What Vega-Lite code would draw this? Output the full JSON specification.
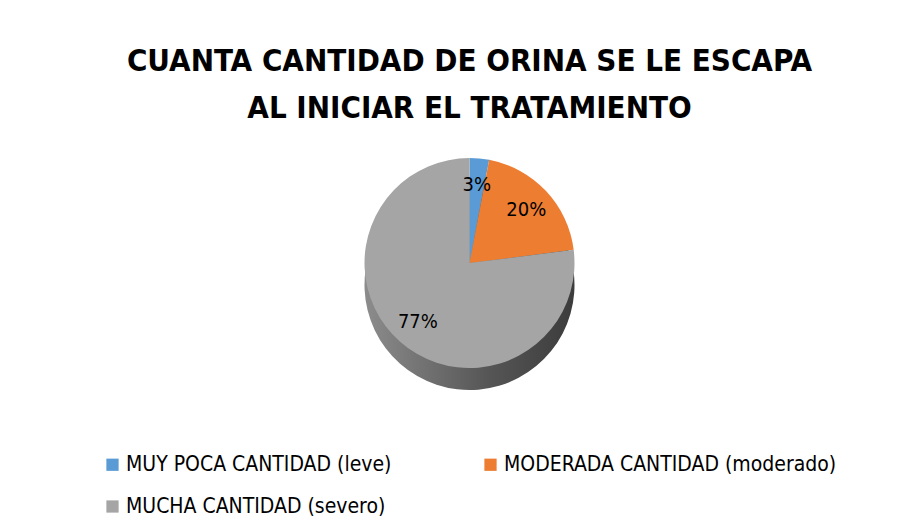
{
  "$schema": "https://vega.github.io/schema/vega-lite/v6.json",
  "width": 914,
  "height": 531,
  "autosize": {"type": "fit", "contains": "padding"},
  "padding": {"left": 30, "top": 46, "right": 5, "bottom": 14},
  "background": "white",
  "title": {
    "text": ["CUANTA CANTIDAD DE ORINA SE LE ESCAPA", "AL INICIAR EL TRATAMIENTO"],
    "font": "DejaVu Sans Condensed",
    "fontSize": 31,
    "fontWeight": "bold",
    "color": "#000000",
    "anchor": "middle",
    "lineHeight": 47,
    "offset": 21
  },
  "data": {
    "values": [
      {"cat": "MUY POCA CANTIDAD (leve)", "pct": 3, "label": "3%", "ord": 1},
      {"cat": "MODERADA CANTIDAD (moderado)", "pct": 20, "label": "20%", "ord": 2},
      {"cat": "MUCHA CANTIDAD (severo)", "pct": 77, "label": "77%", "ord": 3}
    ]
  },
  "encoding": {
    "theta": {"field": "pct", "type": "quantitative", "stack": true},
    "order": {"field": "ord", "type": "quantitative"}
  },
  "layer": [
    {
      "mark": {
        "type": "arc",
        "outerRadius": 105,
        "yOffset": 22,
        "color": {
          "gradient": "linear",
          "x1": 0, "y1": 0, "x2": 1, "y2": 0,
          "stops": [
            {"offset": 0, "color": "#8c8c8c"},
            {"offset": 0.6, "color": "#555555"},
            {"offset": 1, "color": "#3c3c3c"}
          ]
        }
      },
      "encoding": {}
    },
    {
      "mark": {"type": "arc", "outerRadius": 105},
      "encoding": {
        "color": {
          "field": "cat",
          "type": "nominal",
          "scale": {
            "domain": ["MUY POCA CANTIDAD (leve)", "MODERADA CANTIDAD (moderado)", "MUCHA CANTIDAD (severo)"],
            "range": ["#5B9BD5", "#ED7D31", "#A5A5A5"]
          },
          "legend": {
            "title": null,
            "orient": "bottom",
            "direction": "horizontal",
            "columns": 2,
            "symbolType": "square",
            "symbolSize": 150,
            "symbolStrokeWidth": 0,
            "labelFont": "DejaVu Sans Condensed",
            "labelFontSize": 21,
            "labelColor": "#000000",
            "labelLimit": 400,
            "labelOffset": 3,
            "columnPadding": 88,
            "rowPadding": 20,
            "offset": 74
          }
        }
      }
    },
    {
      "mark": {"type": "text", "radius": 78, "font": "DejaVu Sans Condensed", "fontSize": 20, "color": "#000000"},
      "encoding": {"text": {"field": "label"}}
    }
  ],
  "config": {
    "legend": {"layout": {"bottom": {"anchor": "middle"}}}
  }
}
